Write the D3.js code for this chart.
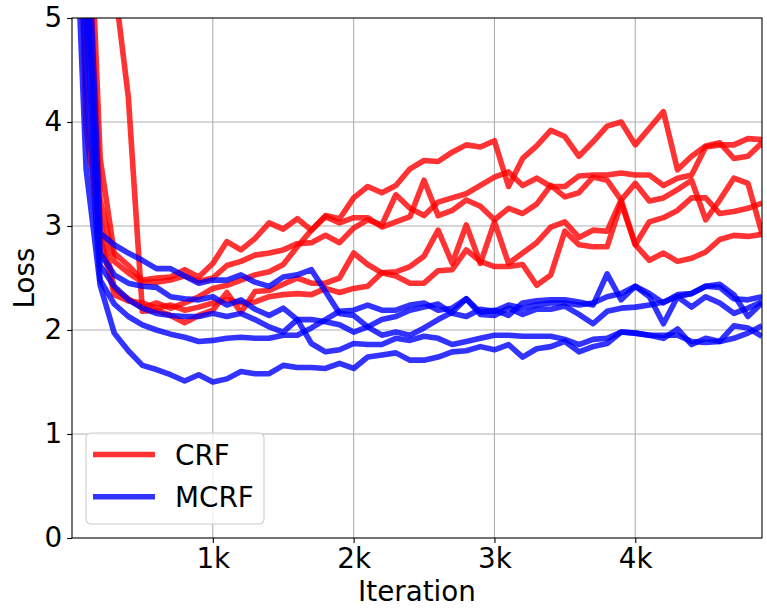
<!DOCTYPE html>
<html>
<head>
<meta charset="utf-8">
<script src="https://cdn.jsdelivr.net/npm/d3@7"></script>
<style>
  body { margin: 0; background: #fff; }
  svg text { font-family: "DejaVu Sans", sans-serif; }
</style>
</head>
<body>
<svg id="chart" width="767" height="609"></svg>
<script>
// ---- data: loss every 100 iterations, five runs per method ----
const iterations = d3.range(0, 5000, 100);

const crfRuns = [
  [12, 7.0, 3.65, 2.74, 2.62, 2.48, 2.50, 2.51, 2.58, 2.51, 2.64, 2.85, 2.77, 2.88, 3.03, 2.97, 3.07, 2.96, 3.10, 3.07,
   3.27, 3.38, 3.32, 3.39, 3.55, 3.63, 3.62, 3.71, 3.78, 3.76, 3.82, 3.38, 3.65, 3.77, 3.92, 3.86, 3.67, 3.81, 3.96, 4.00,
   3.78, 3.94, 4.10, 3.54, 3.67, 3.77, 3.80, 3.65, 3.67, 3.80],
  [12, 6.2, 3.25, 2.66, 2.55, 2.46, 2.46, 2.48, 2.52, 2.47, 2.50, 2.62, 2.66, 2.72, 2.74, 2.77, 2.83, 2.84, 2.91, 2.84,
   2.98, 3.06, 3.01, 3.30, 3.17, 3.10, 3.23, 3.27, 3.31, 3.39, 3.47, 3.52, 3.39, 3.46, 3.38, 3.38, 3.48, 3.49, 3.49, 3.51,
   3.49, 3.49, 3.39, 3.46, 3.49, 3.76, 3.78, 3.78, 3.84, 3.83],
  [10, 5.4, 3.05, 2.40, 2.30, 2.21, 2.26, 2.21, 2.26, 2.32, 2.40, 2.43, 2.48, 2.53, 2.56, 2.63, 2.80, 2.96, 3.09, 3.03,
   3.08, 3.08, 2.99, 3.04, 3.09, 3.44, 3.10, 3.15, 3.25, 3.19, 3.06, 3.17, 3.12, 3.21, 3.39, 3.28, 3.32, 3.47, 3.44, 3.25,
   3.41, 3.24, 3.27, 3.35, 3.44, 3.06, 3.25, 3.46, 3.41, 2.93],
  [12, 9, 7, 5.35, 4.24, 2.18, 2.19, 2.14, 2.07, 2.14, 2.19, 2.36, 2.17, 2.37, 2.38, 2.44, 2.50, 2.45, 2.45, 2.50,
   2.74, 2.63, 2.55, 2.56, 2.61, 2.71, 2.96, 2.64, 3.01, 2.64, 3.04, 2.64, 2.74, 2.84, 2.99, 3.04, 2.89, 2.96, 2.95, 3.25,
   2.82, 3.04, 3.08, 3.15, 3.27, 3.27, 3.12, 3.14, 3.17, 3.22],
  [8.85, 3.95, 2.90, 2.34, 2.28, 2.26, 2.21, 2.24, 2.19, 2.22, 2.26, 2.29, 2.26, 2.27, 2.32, 2.34, 2.35, 2.34, 2.40, 2.36,
   2.40, 2.42, 2.55, 2.52, 2.45, 2.45, 2.57, 2.58, 2.77, 2.66, 2.61, 2.61, 2.63, 2.43, 2.53, 2.95, 2.82, 2.80, 2.80, 3.22,
   2.82, 2.67, 2.74, 2.66, 2.69, 2.75, 2.87, 2.91, 2.90, 2.92]
];

const mcrfRuns = [
  [12, 6.3, 2.93, 2.82, 2.74, 2.67, 2.59, 2.59, 2.52, 2.45, 2.48, 2.48, 2.53, 2.46, 2.42, 2.51, 2.53, 2.58, 2.37, 2.16,
   2.14, 2.03, 1.95, 1.98, 1.95, 2.02, 2.10, 2.17, 2.30, 2.17, 2.19, 2.14, 2.26, 2.28, 2.29, 2.29, 2.27, 2.24, 2.54, 2.29,
   2.42, 2.35, 2.26, 2.34, 2.35, 2.42, 2.44, 2.34, 2.13, 2.26],
  [11, 5.6, 2.74, 2.53, 2.45, 2.42, 2.41, 2.32, 2.30, 2.29, 2.32, 2.24, 2.29, 2.20, 2.14, 2.21, 2.10, 1.87, 1.79, 1.81,
   1.87, 1.86, 1.86, 1.92, 1.90, 1.94, 1.92, 1.86, 1.89, 1.92, 1.95, 1.95, 1.94, 1.94, 1.94, 1.91, 1.86, 1.91, 1.92, 1.98,
   1.97, 1.95, 1.92, 2.01, 1.86, 1.92, 1.89, 2.04, 2.02, 1.94],
  [10, 5.0, 2.62, 2.42, 2.29, 2.21, 2.16, 2.14, 2.13, 2.13, 2.16, 2.13, 2.16, 2.10, 2.03, 1.98, 2.10, 2.10, 2.08, 2.05,
   1.98, 2.03, 2.10, 2.13, 2.19, 2.22, 2.25, 2.16, 2.13, 2.20, 2.18, 2.24, 2.21, 2.24, 2.26, 2.26, 2.24, 2.26, 2.32, 2.35,
   2.42, 2.32, 2.06, 2.32, 2.22, 2.32, 2.26, 2.16, 2.21, 2.27],
  [9, 4.4, 2.48, 2.25, 2.13, 2.05, 2.00, 1.96, 1.93, 1.89, 1.90, 1.92, 1.93, 1.92, 1.92, 1.95, 1.95, 2.02, 2.10, 2.18,
   2.19, 2.24, 2.19, 2.19, 2.24, 2.26, 2.19, 2.21, 2.30, 2.15, 2.14, 2.21, 2.15, 2.20, 2.20, 2.23, 2.15, 2.06, 2.18, 2.21,
   2.22, 2.24, 2.27, 2.32, 2.35, 2.42, 2.41, 2.30, 2.29, 2.32],
  [6.9, 3.55, 2.43, 1.97, 1.80, 1.66, 1.62, 1.57, 1.51, 1.57, 1.50, 1.53, 1.60, 1.58, 1.58, 1.66, 1.64, 1.64, 1.63, 1.68,
   1.63, 1.74, 1.76, 1.78, 1.71, 1.71, 1.74, 1.79, 1.80, 1.84, 1.81, 1.86, 1.74, 1.82, 1.84, 1.89, 1.79, 1.84, 1.87, 1.98,
   1.97, 1.95, 1.95, 1.95, 1.89, 1.88, 1.89, 1.92, 1.97, 2.04]
];

const xTicks = [1000, 2000, 3000, 4000];
const xTickLabels = ['1k', '2k', '3k', '4k'];
const yTicks = [0, 1, 2, 3, 4, 5];
const seriesNames = ['CRF', 'MCRF'];
const seriesColors = ['#ff0000', '#0000ff'];

// ---- layout ----
const W = 767, H = 609;
const margin = { top: 18, right: 5, bottom: 71, left: 72 };
const iw = W - margin.left - margin.right;
const ih = H - margin.top - margin.bottom;
const FONT = 27.8;

const svg = d3.select('#chart');
const g = svg.append('g').attr('transform', `translate(${margin.left},${margin.top})`);

const x = d3.scaleLinear().domain([0, 4900]).range([0, iw]);
const y = d3.scaleLinear().domain([0, 5]).range([ih, 0]);

// grid
g.append('g').selectAll('line').data(xTicks).join('line')
  .attr('x1', d => x(d)).attr('x2', d => x(d))
  .attr('y1', 0).attr('y2', ih)
  .attr('stroke', '#b0b0b0').attr('stroke-width', 1.1);
g.append('g').selectAll('line').data(yTicks.slice(1, -1)).join('line')
  .attr('y1', d => y(d)).attr('y2', d => y(d))
  .attr('x1', 0).attr('x2', iw)
  .attr('stroke', '#b0b0b0').attr('stroke-width', 1.1);

// clip to the axes box
svg.append('defs').append('clipPath').attr('id', 'plot-clip')
  .append('rect').attr('width', iw).attr('height', ih);

const line = d3.line()
  .x((d, i) => x(iterations[i]))
  .y(d => y(d));

const plot = g.append('g').attr('clip-path', 'url(#plot-clip)');
[crfRuns, mcrfRuns].forEach((runs, k) => {
  runs.forEach(run => {
    plot.append('path')
      .datum(run)
      .attr('d', line)
      .attr('fill', 'none')
      .attr('stroke', seriesColors[k])
      .attr('stroke-opacity', 0.8)
      .attr('stroke-width', 5.6)
      .attr('stroke-linejoin', 'round');
  });
});

// spines
g.append('rect')
  .attr('width', iw).attr('height', ih)
  .attr('fill', 'none').attr('stroke', '#000').attr('stroke-width', 1.1);

// axes
const xAxis = g.append('g').attr('transform', `translate(0,${ih})`)
  .call(d3.axisBottom(x).tickValues(xTicks).tickFormat((d, i) => xTickLabels[i])
    .tickSize(4.9).tickPadding(4.9));
const yAxis = g.append('g')
  .call(d3.axisLeft(y).tickValues(yTicks).tickFormat(d3.format('d'))
    .tickSize(4.9).tickPadding(4.9));
[xAxis, yAxis].forEach(a => {
  a.select('.domain').remove();
  a.selectAll('.tick line').attr('stroke', '#000').attr('stroke-width', 1.1);
  a.selectAll('.tick text').attr('font-size', FONT).attr('fill', '#000')
    .attr('font-family', '"DejaVu Sans", sans-serif');
});

// axis labels
svg.append('text')
  .attr('x', margin.left + iw / 2).attr('y', 601)
  .attr('text-anchor', 'middle').attr('font-size', FONT).attr('fill', '#000')
  .text('Iteration');
svg.append('text')
  .attr('transform', `translate(33.5,${margin.top + ih / 2}) rotate(-90)`)
  .attr('text-anchor', 'middle').attr('font-size', FONT).attr('fill', '#000')
  .text('Loss');

// legend
const lg = svg.append('g');
lg.append('rect')
  .attr('x', 86).attr('y', 433).attr('width', 178).attr('height', 91)
  .attr('rx', 5).attr('ry', 5)
  .attr('fill', '#fff').attr('fill-opacity', 0.8)
  .attr('stroke', '#cccccc').attr('stroke-width', 1.1);
seriesNames.forEach((name, i) => {
  const ly = 454.5 + i * 42.3;
  lg.append('line')
    .attr('x1', 93).attr('x2', 155).attr('y1', ly).attr('y2', ly)
    .attr('stroke', seriesColors[i]).attr('stroke-opacity', 0.8)
    .attr('stroke-width', 5.6);
  lg.append('text')
    .attr('x', 175).attr('y', ly).attr('dy', '0.36em')
    .attr('font-size', FONT).attr('fill', '#000')
    .text(name);
});
</script>
</body>
</html>
